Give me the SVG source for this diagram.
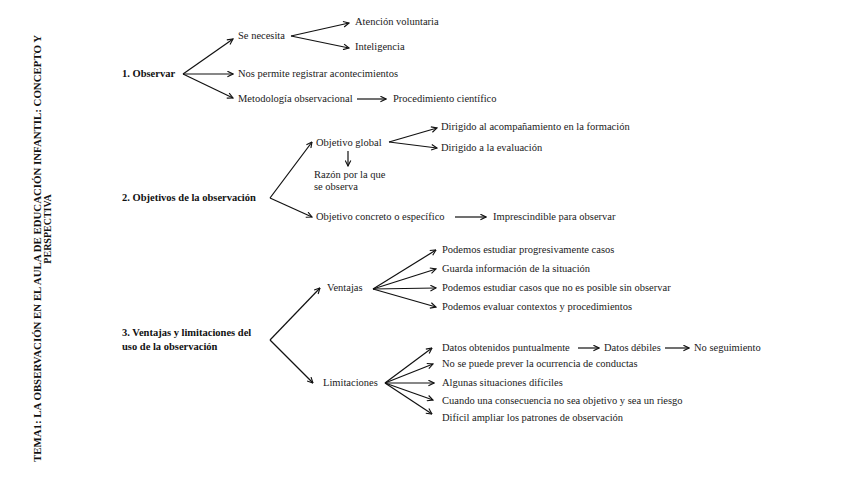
<svg xmlns="http://www.w3.org/2000/svg" width="848" height="477" viewBox="0 0 848 477">
<style>
text{font-family:"Liberation Serif","Times New Roman",serif;font-size:10.5px;fill:#1a1a1a}
.b{font-weight:bold;fill:#111}
.t{font-size:10px}
.c line{stroke:#111;stroke-width:1.2;marker-end:url(#ah)}
</style>
<defs>
<marker id="ah" viewBox="0 0 10 10" refX="9" refY="5" markerWidth="7" markerHeight="7" markerUnits="userSpaceOnUse" orient="auto">
<path d="M1,1 L9,5 L1,9" fill="none" stroke="#111" stroke-width="1.6"/>
</marker>
</defs>
<rect width="848" height="477" fill="#fff"/>
<g id="title">
<text class="b t" transform="translate(41,462) rotate(-90)" textLength="427" lengthAdjust="spacingAndGlyphs">TEMA1: LA OBSERVACIÓN EN EL AULA DE EDUCACIÓN INFANTIL: CONCEPTO Y</text>
<text class="b t" transform="translate(51,229) rotate(-90)" text-anchor="middle">PERSPECTIVA</text>
</g>
<g class="c" id="connectors">
<line x1="183" y1="74" x2="233" y2="39"/>
<line x1="183" y1="74" x2="233" y2="74"/>
<line x1="183" y1="74" x2="233" y2="98"/>
<line x1="291" y1="36" x2="349" y2="23"/>
<line x1="291" y1="36" x2="349" y2="48"/>
<line x1="357" y1="99" x2="386" y2="99"/>
<line x1="270" y1="198" x2="312" y2="142"/>
<line x1="270" y1="198" x2="312" y2="217"/>
<line x1="389" y1="142" x2="437" y2="128"/>
<line x1="389" y1="142" x2="437" y2="148"/>
<line x1="348" y1="151" x2="348" y2="166"/>
<line x1="455" y1="217" x2="486" y2="217"/>
<line x1="270" y1="340" x2="320" y2="288"/>
<line x1="270" y1="340" x2="313" y2="383"/>
<line x1="373" y1="289" x2="436" y2="250"/>
<line x1="373" y1="289" x2="436" y2="269"/>
<line x1="373" y1="289" x2="436" y2="288"/>
<line x1="373" y1="289" x2="436" y2="307"/>
<line x1="385" y1="383" x2="432" y2="348"/>
<line x1="385" y1="383" x2="433" y2="364"/>
<line x1="385" y1="383" x2="434" y2="383"/>
<line x1="385" y1="383" x2="433" y2="400"/>
<line x1="385" y1="383" x2="432" y2="414"/>
<line x1="578" y1="348" x2="599" y2="348"/>
<line x1="665" y1="348" x2="689" y2="348"/>
</g>
<g id="n1"><text class="b" x="122" y="77">1. Observar</text></g>
<g id="n1a"><text x="238" y="39">Se necesita</text></g>
<g id="n1a1"><text x="355" y="25">Atención voluntaria</text></g>
<g id="n1a2"><text x="355" y="50">Inteligencia</text></g>
<g id="n1b"><text x="238" y="77">Nos permite registrar acontecimientos</text></g>
<g id="n1c"><text x="238" y="102">Metodología observacional</text></g>
<g id="n1c1"><text x="393" y="102">Procedimiento científico</text></g>
<g id="n2"><text class="b" x="122" y="201">2. Objetivos de la observación</text></g>
<g id="n2a"><text x="316" y="146">Objetivo global</text></g>
<g id="n2a1"><text x="441" y="130">Dirigido al acompañamiento en la formación</text></g>
<g id="n2a2"><text x="441" y="151">Dirigido a la evaluación</text></g>
<g id="n2a3"><text x="314" y="178">Razón por la que</text><text x="314" y="190">se observa</text></g>
<g id="n2b"><text x="316" y="220">Objetivo concreto o específico</text></g>
<g id="n2b1"><text x="493" y="220">Imprescindible para observar</text></g>
<g id="n3"><text class="b" x="122" y="336">3. Ventajas y limitaciones del</text><text class="b" x="122" y="350">uso de la observación</text></g>
<g id="n3a"><text x="327" y="291">Ventajas</text></g>
<g id="n3a1"><text x="442" y="253">Podemos estudiar progresivamente casos</text></g>
<g id="n3a2"><text x="442" y="272">Guarda información de la situación</text></g>
<g id="n3a3"><text x="442" y="291">Podemos estudiar casos que no es posible sin observar</text></g>
<g id="n3a4"><text x="442" y="310">Podemos evaluar contextos y procedimientos</text></g>
<g id="n3b"><text x="323" y="386">Limitaciones</text></g>
<g id="n3b1"><text x="442" y="351">Datos obtenidos puntualmente</text></g>
<g id="n3b1a"><text x="604" y="351">Datos débiles</text></g>
<g id="n3b1b"><text x="694" y="351">No seguimiento</text></g>
<g id="n3b2"><text x="442" y="367">No se puede prever la ocurrencia de conductas</text></g>
<g id="n3b3"><text x="442" y="386">Algunas situaciones difíciles</text></g>
<g id="n3b4"><text x="442" y="404">Cuando una consecuencia no sea objetivo y sea un riesgo</text></g>
<g id="n3b5"><text x="442" y="421">Difícil ampliar los patrones de observación</text></g>
</svg>
